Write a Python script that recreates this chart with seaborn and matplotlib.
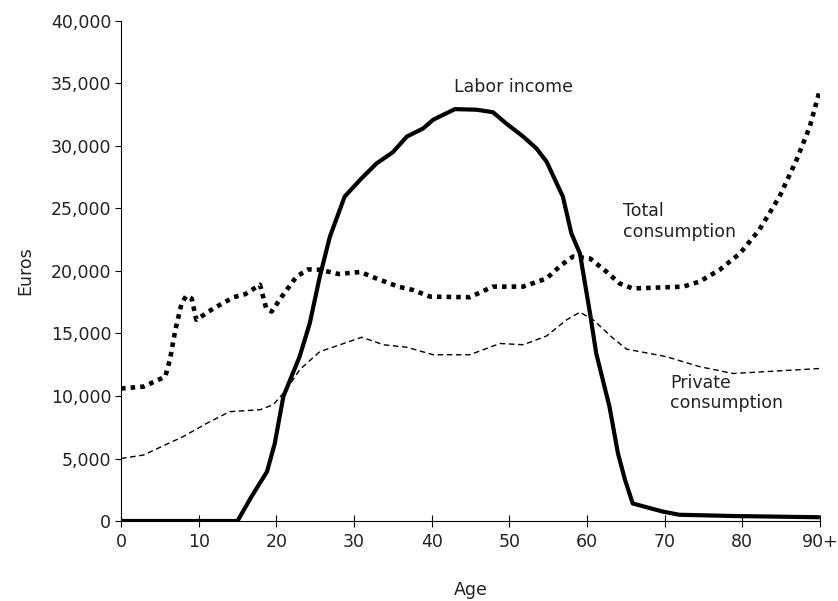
import numpy as np
import pandas as pd
import matplotlib
matplotlib.use("Agg")
import matplotlib.pyplot as plt
import seaborn as sns
from matplotlib.ticker import FuncFormatter

# values (euros per person, by age)
labor_age = [0, 5, 10, 15, 16.8, 18.8, 19.8, 20.9, 23, 24.3, 25.6, 26.9, 28.8, 30.8, 32.9,
             35, 36.8, 38.9, 40.2, 43, 45.8, 47.9, 49.6, 51.8, 53.5, 54.8, 56.9, 58,
             59.1, 60.4, 61.2, 62.9, 64, 64.9, 65.9, 69.8, 71.9, 78.8, 90]
labor_income = [0, 0, 0, 0, 1950, 3950, 6200, 9950, 13150, 15800, 19550, 22750, 25950,
                27300, 28600, 29500, 30750, 31400, 32100, 32950, 32900, 32700, 31800,
                30750, 29800, 28750, 25950, 23000, 21400, 16600, 13400, 9150, 5400,
                3300, 1400, 750, 500, 400, 300]

total_age = [0, 2.9, 5.7, 6.3, 7, 7.8, 8.4, 9.1, 9.7, 11.9, 14.5, 16, 17.9, 18.7, 19.4,
             20.7, 22.6, 24.1, 25.6, 28, 30.8, 32.9, 35.7, 37.6, 39.8, 44.9, 47.9, 51.8,
             54.8, 56.7, 58.2, 60.4, 62.5, 64.2, 65.9, 72.4, 74.5, 77.1, 79.7, 82.2,
             84.8, 87, 88.7, 90]
total_consumption = [10600, 10750, 11550, 12900, 15300, 17400, 18000, 17800, 16100,
                     17000, 17900, 18150, 18900, 17000, 16750, 17950, 19550, 20130,
                     20100, 19760, 19920, 19400, 18750, 18480, 17950, 17900, 18750,
                     18750, 19400, 20480, 21150, 21000, 19950, 19000, 18600, 18750,
                     19150, 20100, 21400, 23300, 25950, 28900, 31550, 34500]

private_age = [0, 2.9, 8, 11, 14, 17.9, 19.6, 21.3, 23, 25.6, 28.2, 31, 33.8, 36.8,
               40.2, 44.9, 48.8, 51.8, 54.8, 57.4, 59.1, 60.8, 63.4, 65.1, 70.2, 74.5,
               78.8, 83.1, 90]
private_consumption = [5000, 5280, 6750, 7800, 8750, 8900, 9300, 10500, 12100, 13550,
                       14100, 14700, 14100, 13900, 13300, 13300, 14200, 14100, 14800,
                       16100, 16700, 16100, 14600, 13750, 13150, 12350, 11800, 11950,
                       12200]

x_ticks = [0, 10, 20, 30, 40, 50, 60, 70, 80, 90]
x_tick_labels = ["0", "10", "20", "30", "40", "50", "60", "70", "80", "90+"]
y_ticks = [0, 5000, 10000, 15000, 20000, 25000, 30000, 35000, 40000]

sns.set_style("ticks")
plt.rcParams["font.family"] = ["DejaVu Sans"]

fig = plt.figure(figsize=(8.38, 6.01), dpi=100)
ax = fig.add_axes([0.1444, 0.1331, 0.834, 0.832])

labor_df = pd.DataFrame({"age": labor_age, "euros": labor_income})
total_df = pd.DataFrame({"age": total_age, "euros": total_consumption})
private_df = pd.DataFrame({"age": private_age, "euros": private_consumption})

sns.lineplot(data=private_df, x="age", y="euros", ax=ax, color="black", lw=1.0,
             dashes=False, linestyle=(0, (4, 2.6)))
sns.lineplot(data=total_df, x="age", y="euros", ax=ax, color="black", lw=3.3,
             linestyle=(0, (1, 1.1)), dash_capstyle="butt")
sns.lineplot(data=labor_df, x="age", y="euros", ax=ax, color="black", lw=3.0,
             solid_capstyle="butt")

fs = 12.5
ax.text(50.5, 34750, "Labor income", ha="center", va="center", fontsize=fs,
        color="#222222")
ax.text(64.6, 23960, "Total\nconsumption", ha="left", va="center", fontsize=fs,
        linespacing=1.15, color="#222222")
ax.text(70.7, 10240, "Private\nconsumption", ha="left", va="center", fontsize=fs,
        linespacing=1.15, color="#222222")

ax.set_xlim(0, 90)
ax.set_ylim(0, 40000)
ax.set_xticks(x_ticks)
ax.set_xticklabels(x_tick_labels)
ax.set_yticks(y_ticks)
ax.yaxis.set_major_formatter(FuncFormatter(lambda v, p: f"{int(v):,}"))
ax.tick_params(axis="x", direction="inout", length=9, width=0.8, labelsize=fs, pad=4,
               colors="black", labelcolor="#222222")
ax.tick_params(axis="y", direction="out", length=4, width=0.8, labelsize=fs, pad=3,
               colors="black", labelcolor="#222222")
ax.set_xlabel("Age", fontsize=fs, labelpad=22, color="#222222")
ax.set_ylabel("Euros", fontsize=fs, labelpad=12, color="#222222")
for side in ["top", "right"]:
    ax.spines[side].set_visible(False)
for side in ["left", "bottom"]:
    ax.spines[side].set_linewidth(0.8)
    ax.spines[side].set_color("black")

plt.savefig("out.png", dpi=100)
